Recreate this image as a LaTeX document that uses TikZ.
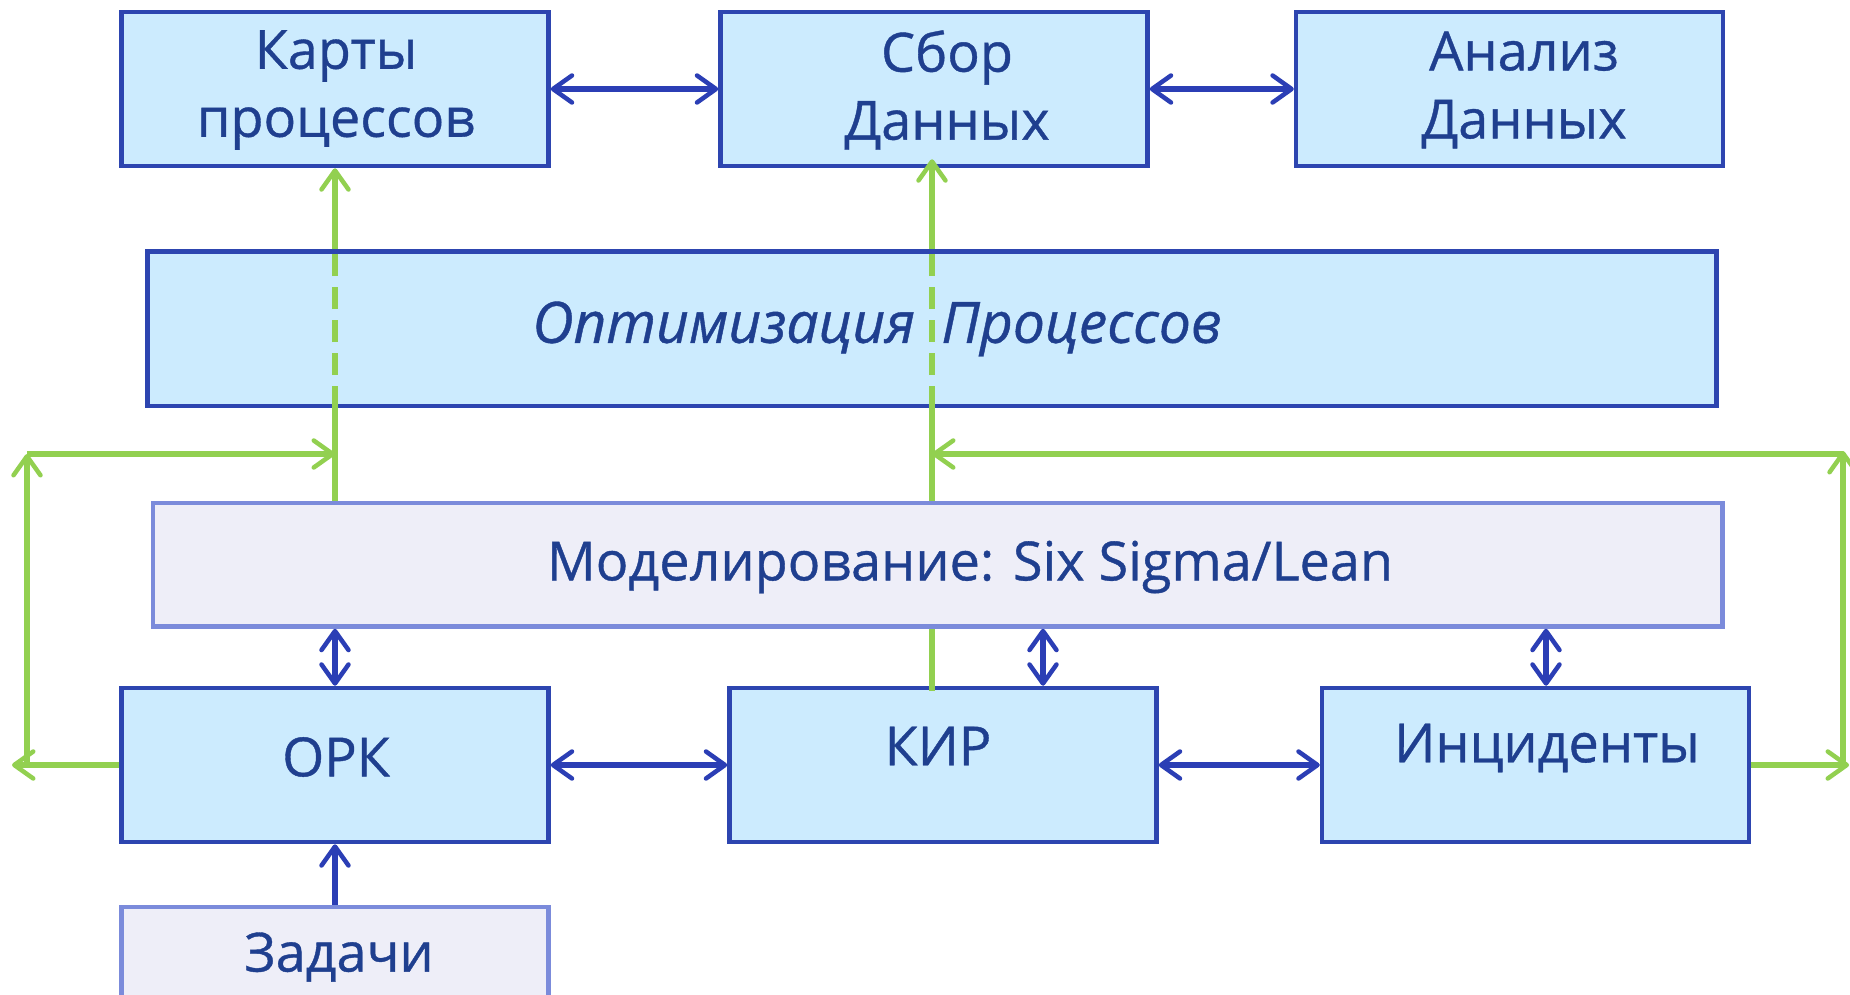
\documentclass[tikz,border=0pt]{standalone}
\usepackage{fontspec}
\setmainfont{Open Sans}
\newfontfamily\boxfont{Open Sans}[FakeBold=0.7]
\usetikzlibrary{arrows.meta}
\definecolor{boxfill}{HTML}{CCEBFE}
\definecolor{boxline}{HTML}{2D45B0}
\definecolor{modfill}{HTML}{EEEEF8}
\definecolor{modline}{HTML}{7B8BDB}
\definecolor{txtblue}{HTML}{1F3F8F}
\definecolor{linkblue}{HTML}{2B3EB5}
\definecolor{linkgreen}{HTML}{92D050}
\tikzset{
  barb/.tip={Straight Barb[length=19pt, width=27pt, line width=4.5pt, round]},
  block/.style={draw=boxline, fill=boxfill, line width=4.5pt, inner sep=0pt,
    minimum width=427pt, minimum height=154pt},
  lightblock/.style={block, draw=modline, fill=modfill},
  label text/.style={text=txtblue, font=\boxfont\fontsize{54}{68}\selectfont, align=center, inner sep=0pt},
  bluelink/.style={draw=linkblue, line width=6pt, {barb}-{barb}},
  blueone/.style={draw=linkblue, line width=6pt, -{barb}},
  greenlink/.style={draw=linkgreen, line width=5.5pt, -{barb}},
  greenline/.style={draw=linkgreen, line width=5.5pt},
  greendash/.style={draw=linkgreen, line width=5.5pt, dash pattern=on 22pt off 11pt},
}
\begin{document}
\begin{tikzpicture}[x=1pt, y=-1pt]
\clip (0,0) rectangle (1850,995);
\useasboundingbox (0,0) rectangle (1850,995);
\fill[white] (0,0) rectangle (1850,995);

% x positions of the green feed lines
\coordinate (gL) at (335,0);
\coordinate (gR) at (932,0);

% boxes
\node[block] (karty) at (335,89) {};
\node[block] (sbor) at (934,89) {};
\node[block] (analiz) at (1509.6,89) {};
\node[block, minimum width=1569pt, minimum height=154.6pt] (opt) at (932,328.6) {};
\node[lightblock, minimum width=1569.6pt, minimum height=123.5pt] (model) at (937.8,564.8) {};
\node[block] (ork) at (335,765) {};
\node[block] (kir) at (943,765) {};
\node[block] (inc) at (1535.5,765) {};
\node[lightblock] (zad) at (335,984) {};

% texts
\node[label text] (kartyT) at (336,90) {Карты\\процессов};
\node[label text] (sborT) at (947,90) {Сбор\\Данных};
\node[label text] (analizT) at (1524,90) {Анализ\\Данных};
\node[label text, font=\boxfont\fontsize{57}{68}\selectfont\itshape] (optT) at (877,329) {Оптимизация\hspace{26pt}Процессов};
\node[label text] (modelT) at (970,567) {Моделирование: Six Sigma/Lean};
\node[label text] (orkT) at (336,757) {ОРК};
\node[label text] (kirT) at (938,746) {КИР};
\node[label text] (incT) at (1547,748) {Инциденты};
\node[label text] (zadT) at (339,957) {Задачи};

% blue links
\draw[bluelink] (karty.east) -- (sbor.west);
\draw[bluelink] (sbor.east) -- (analiz.west);
\draw[bluelink] (ork.east) -- (kir.west);
\draw[bluelink] (kir.east) -- (inc.west);
\draw[bluelink] (ork.north) -- (ork.north |- model.south);
\draw[bluelink] ([xshift=100pt]kir.north) -- ([xshift=100pt]kir.north |- model.south);
\draw[bluelink] ([xshift=10.5pt]inc.north) -- ([xshift=10.5pt]inc.north |- model.south);
\draw[blueone] (zad.north) -- (ork.south);

% green: left column through the optimisation band
\draw[greenline] (model.north -| gL) -- (opt.south -| gL);
\draw[greendash] (opt.south -| gL) -- (opt.north -| gL);
\draw[greenlink] (opt.north -| gL) -- (karty.south -| gL);

% green: middle column
\coordinate (kirTop) at ([yshift=-5pt]kir.north -| gR);
\draw[greenline] (kirTop) -- (model.south -| gR);
\draw[greenline] (model.north -| gR) -- (opt.south -| gR);
\draw[greendash] (opt.south -| gR) -- (opt.north -| gR);
\coordinate (sborLow) at ([yshift=9pt]sbor.south -| gR);
\draw[greenlink] (opt.north -| gR) -- (sborLow);

% green: left loop
\coordinate (lOut) at (12,765);
\coordinate (lBot) at (27,765);
\coordinate (lTop) at (27,454);
\draw[greenlink] (ork.west) -- (lOut);
\draw[greenlink] (lBot) -- (lTop);
\draw[greenlink] (lTop) -- (lTop -| gL);

% green: right loop
\coordinate (rOut) at (1849,765);
\coordinate (rBot) at (1843,765);
\coordinate (rTop) at (1843,451);
\coordinate (rRow) at (1843,454);
\draw[greenlink] (inc.east) -- (rOut);
\draw[greenlink] (rBot) -- (rTop);
\draw[greenlink] (rRow) -- (rRow -| gR);
\end{tikzpicture}
\end{document}
